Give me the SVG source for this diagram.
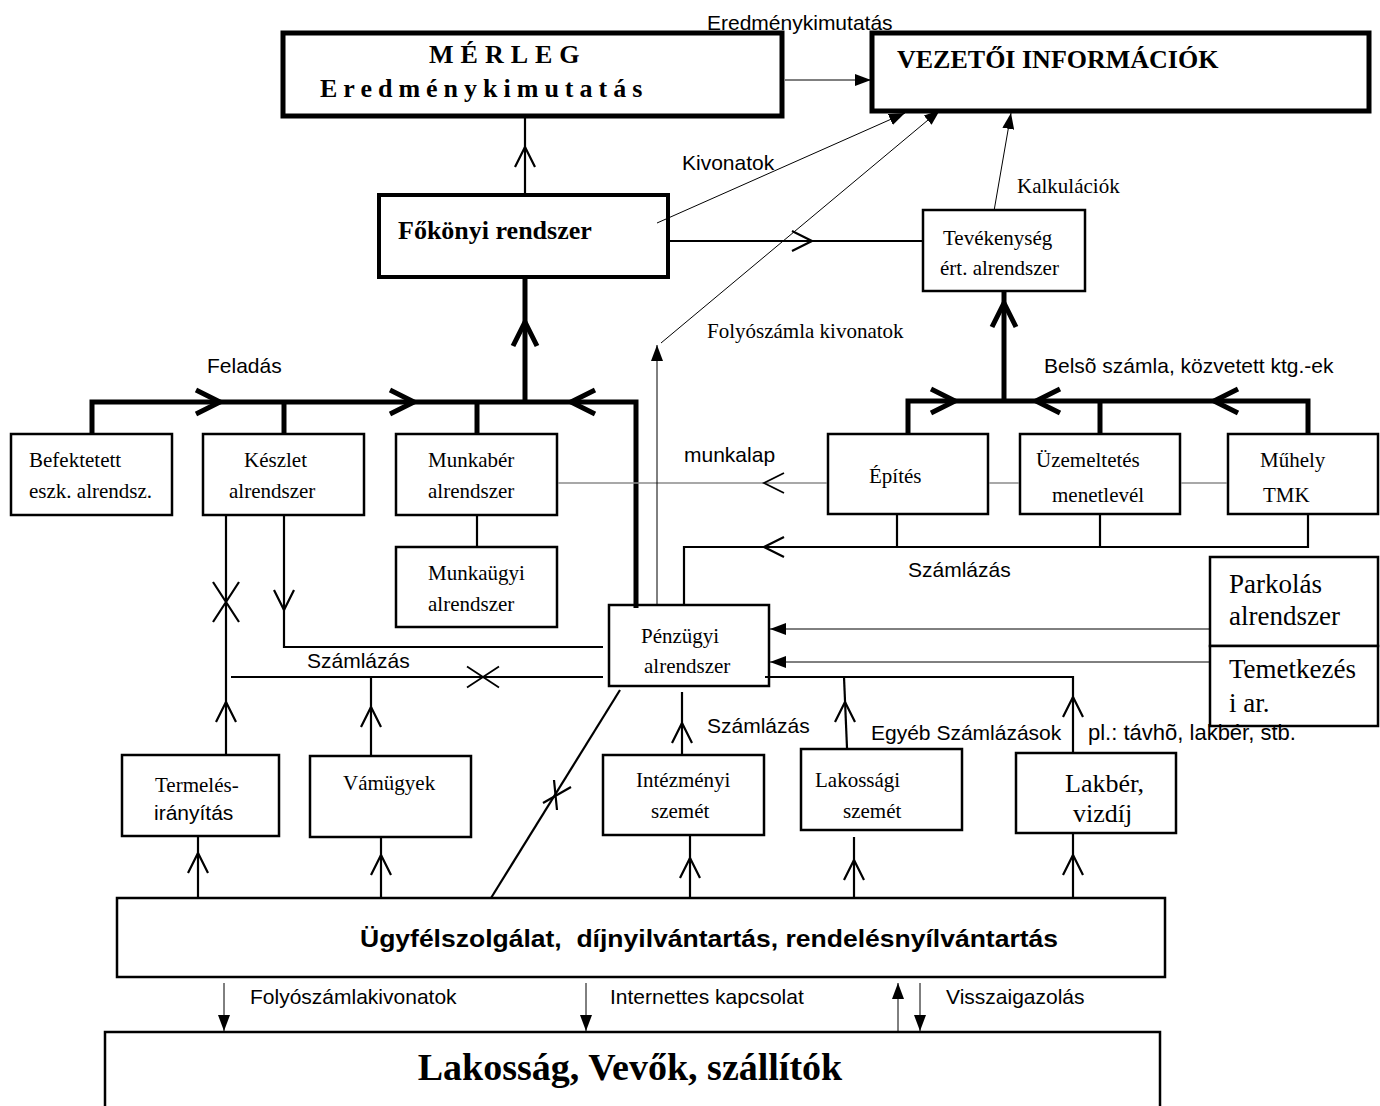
<svg xmlns="http://www.w3.org/2000/svg" width="1380" height="1106" viewBox="0 0 1380 1106">
<style>
.box{fill:#fff;stroke:#000;stroke-width:2.5}
.bx5{fill:#fff;stroke:#000;stroke-width:5}
.bx4{fill:#fff;stroke:#000;stroke-width:4}
.t5{fill:none;stroke:#000;stroke-width:5}
.l2{fill:none;stroke:#000;stroke-width:2.2}
.h1{fill:none;stroke:#000;stroke-width:1}
.gr{fill:none;stroke:#8c8c8c;stroke-width:1.5}
.c2{fill:none;stroke:#000;stroke-width:2.2}
.c5{fill:none;stroke:#000;stroke-width:5}
.sf{font-family:"Liberation Serif","Times New Roman",serif;font-size:21px;fill:#000}
.ss{font-family:"Liberation Sans",Arial,sans-serif;font-size:21px;fill:#000}
</style>
<defs>
<marker id="ah" viewBox="0 0 16 12" refX="16" refY="6" markerWidth="16" markerHeight="12" markerUnits="userSpaceOnUse" orient="auto"><path d="M0,0 L16,6 L0,12 z" fill="#000"/></marker>
<path id="cu" d="M-10,20 L0,0 L10,20"/>
<path id="ctu" d="M-12,24 L0,0 L12,24"/>
<path id="xx" d="M-13,-20 L13,20 M13,-20 L-13,20"/>
</defs>

<g id="merleg">
<rect class="bx5" x="283" y="33" width="499" height="83"/>
<text class="sf" x="429" y="63" style="font-size:26px;font-weight:bold;letter-spacing:7px">MÉRLEG</text>
<text class="sf" x="320" y="97" style="font-size:26px;font-weight:bold;letter-spacing:6px">Eredménykimutatás</text>
</g>
<g id="vezetoi">
<rect class="bx5" x="872" y="33" width="497" height="78"/>
<text class="sf" x="897" y="68" style="font-size:26px;font-weight:bold">VEZETŐI INFORMÁCIÓK</text>
</g>
<g id="fokonyi">
<rect class="bx4" x="379" y="195" width="289" height="82"/>
<text class="sf" x="398" y="239" style="font-size:26px;font-weight:bold">Főkönyi rendszer</text>
</g>
<g id="tevekenyseg">
<rect class="box" x="923" y="210" width="162" height="81"/>
<text class="sf" x="943" y="245">Tevékenység</text>
<text class="sf" x="940" y="275">ért. alrendszer</text>
</g>
<g id="befektetett">
<rect class="box" x="11" y="434" width="161" height="81"/>
<text class="sf" x="29" y="467">Befektetett</text>
<text class="sf" x="29" y="498">eszk. alrendsz.</text>
</g>
<g id="keszlet">
<rect class="box" x="203" y="434" width="161" height="81"/>
<text class="sf" x="244" y="467">Készlet</text>
<text class="sf" x="229" y="498">alrendszer</text>
</g>
<g id="munkaber">
<rect class="box" x="396" y="434" width="161" height="81"/>
<text class="sf" x="428" y="467">Munkabér</text>
<text class="sf" x="428" y="498">alrendszer</text>
</g>
<g id="munkaugyi">
<rect class="box" x="396" y="547" width="161" height="80"/>
<text class="sf" x="428" y="580">Munkaügyi</text>
<text class="sf" x="428" y="611">alrendszer</text>
</g>
<g id="epites">
<rect class="box" x="828" y="434" width="160" height="80"/>
<text class="sf" x="869" y="483">Építés</text>
</g>
<g id="uzemeltetes">
<rect class="box" x="1020" y="434" width="160" height="80"/>
<text class="sf" x="1036" y="467">Üzemeltetés</text>
<text class="sf" x="1052" y="502">menetlevél</text>
</g>
<g id="muhely">
<rect class="box" x="1228" y="434" width="150" height="80"/>
<text class="sf" x="1260" y="467">Műhely</text>
<text class="sf" x="1263" y="502">TMK</text>
</g>
<g id="penzugyi">
<rect class="box" x="609" y="605" width="160" height="81"/>
<text class="sf" x="641" y="643">Pénzügyi</text>
<text class="sf" x="644" y="673">alrendszer</text>
</g>
<g id="parkolas">
<rect class="box" x="1210" y="557" width="168" height="89"/>
<text class="sf" x="1229" y="593" style="font-size:27px">Parkolás</text>
<text class="sf" x="1229" y="625" style="font-size:27px">alrendszer</text>
</g>
<g id="temetkezes">
<rect class="box" x="1210" y="646" width="168" height="80"/>
<text class="sf" x="1229" y="678" style="font-size:27px">Temetkezés</text>
<text class="sf" x="1229" y="712" style="font-size:27px">i ar.</text>
</g>
<g id="termeles">
<rect class="box" x="122" y="755" width="157" height="81"/>
<text class="sf" x="155" y="792">Termelés-</text>
<text class="ss" x="154" y="820">irányítás</text>
</g>
<g id="vamugyek">
<rect class="box" x="310" y="756" width="161" height="81"/>
<text class="sf" x="343" y="790">Vámügyek</text>
</g>
<g id="intezmenyi">
<rect class="box" x="603" y="755" width="161" height="80"/>
<text class="sf" x="636" y="787">Intézményi</text>
<text class="sf" x="651" y="818">szemét</text>
</g>
<g id="lakossagi">
<rect class="box" x="801" y="749" width="161" height="81"/>
<text class="sf" x="815" y="787">Lakossági</text>
<text class="sf" x="843" y="818">szemét</text>
</g>
<g id="lakber">
<rect class="box" x="1016" y="753" width="160" height="80"/>
<text class="sf" x="1065" y="792" style="font-size:26px">Lakbér,</text>
<text class="sf" x="1073" y="822" style="font-size:26px">vizdíj</text>
</g>
<g id="ugyfel">
<rect class="box" x="117" y="898" width="1048" height="79"/>
<text class="ss" x="360" y="947" xml:space="preserve" style="font-size:24px;font-weight:bold" textLength="698" lengthAdjust="spacingAndGlyphs">Ügyfélszolgálat,  díjnyilvántartás, rendelésnyílvántartás</text>
</g>
<g id="lakossag">
<rect class="box" x="105" y="1032" width="1055" height="90"/>
<text class="sf" x="630" y="1080" text-anchor="middle" style="font-size:38px;font-weight:bold">Lakosság, Vevők, szállítók</text>
</g>

<g id="connectors">
<!-- top -->
<line class="h1" x1="785" y1="80" x2="871" y2="80" stroke="#555" marker-end="url(#ah)"/>
<line class="l2" x1="525" y1="193" x2="525" y2="118"/>
<use href="#cu" class="c2" transform="translate(525,147)"/>
<line class="h1" x1="657" y1="223" x2="905" y2="113" marker-end="url(#ah)"/>
<line class="h1" x1="661" y1="343" x2="940" y2="110" marker-end="url(#ah)"/>
<line class="h1" x1="994" y1="211" x2="1011" y2="113" marker-end="url(#ah)"/>
<line class="l2" x1="670" y1="241" x2="922" y2="241"/>
<use href="#cu" class="c2" transform="translate(812,241) rotate(90)"/>
<!-- left bus -->
<line class="t5" x1="525" y1="279" x2="525" y2="402"/>
<use href="#ctu" class="c5" transform="translate(525,322)"/>
<path class="t5" d="M92,433 V402 H636 V608"/>
<line class="t5" x1="284" y1="402" x2="284" y2="433"/>
<line class="t5" x1="477" y1="402" x2="477" y2="433"/>
<use href="#ctu" class="c5" transform="translate(220,402) rotate(90)"/>
<use href="#ctu" class="c5" transform="translate(414,402) rotate(90)"/>
<use href="#ctu" class="c5" transform="translate(571,402) rotate(-90)"/>
<line class="l2" x1="477" y1="516" x2="477" y2="546"/>
<!-- right bus -->
<line class="t5" x1="1004" y1="292" x2="1004" y2="401"/>
<use href="#ctu" class="c5" transform="translate(1004,303)"/>
<path class="t5" d="M908,433 V401 H1308 V433"/>
<line class="t5" x1="1100" y1="401" x2="1100" y2="433"/>
<use href="#ctu" class="c5" transform="translate(955,401) rotate(90)"/>
<use href="#ctu" class="c5" transform="translate(1036,401) rotate(-90)"/>
<use href="#ctu" class="c5" transform="translate(1214,401) rotate(-90)"/>
<!-- munkalap -->
<path class="gr" d="M558,483 H827 M989,483 H1019 M1181,483 H1227"/>
<use href="#cu" class="c2" transform="translate(764,483) rotate(-90)" style="stroke-width:1.8"/>
<!-- Számlázás right -->
<path class="l2" d="M684,604 V547 H1308 V515"/>
<line class="l2" x1="897" y1="515" x2="897" y2="547"/>
<line class="l2" x1="1100" y1="515" x2="1100" y2="547"/>
<use href="#cu" class="c2" transform="translate(764,547) rotate(-90)"/>
<!-- Folyószámla vertical -->
<line class="h1" x1="657" y1="604" x2="657" y2="345" marker-end="url(#ah)"/>
<!-- Parkolás / Temetkezés -->
<line class="h1" x1="1209" y1="629" x2="770" y2="629" stroke="#444" marker-end="url(#ah)"/>
<line class="h1" x1="1209" y1="662" x2="770" y2="662" stroke="#444" marker-end="url(#ah)"/>
<!-- Pénzügyi right -->
<path class="l2" d="M765,677 H1073 V752"/>
<line class="l2" x1="844" y1="677" x2="847" y2="748"/>
<use href="#cu" class="c2" transform="translate(845,702)"/>
<use href="#cu" class="c2" transform="translate(1073,697)"/>
<line class="l2" x1="682" y1="692" x2="682" y2="754"/>
<use href="#cu" class="c2" transform="translate(682,723)"/>
<!-- left lower -->
<line class="l2" x1="226" y1="516" x2="226" y2="754"/>
<use href="#xx" class="c2" transform="translate(226,602)"/>
<use href="#cu" class="c2" transform="translate(226,702)"/>
<path class="l2" d="M284,516 V647 H603"/>
<use href="#cu" class="c2" transform="translate(284,610) rotate(180)"/>
<line class="l2" x1="231" y1="677" x2="603" y2="677"/>
<use href="#xx" class="c2" transform="translate(483,677) rotate(90) scale(0.8)"/>
<line class="l2" x1="371" y1="677" x2="371" y2="755"/>
<use href="#cu" class="c2" transform="translate(371,707)"/>
<!-- diagonal -->
<line class="l2" x1="491" y1="898" x2="620" y2="690"/>
<path class="l2" d="M543,803 L571,787 M554,780 L557,810"/>
<!-- bottom verticals -->
<line class="l2" x1="198" y1="837" x2="198" y2="897"/>
<use href="#cu" class="c2" transform="translate(198,853)"/>
<line class="l2" x1="381" y1="838" x2="381" y2="897"/>
<use href="#cu" class="c2" transform="translate(381,855)"/>
<line class="l2" x1="690" y1="836" x2="690" y2="897"/>
<use href="#cu" class="c2" transform="translate(690,858)"/>
<line class="l2" x1="854" y1="837" x2="854" y2="897"/>
<use href="#cu" class="c2" transform="translate(854,860)"/>
<line class="l2" x1="1073" y1="834" x2="1073" y2="897"/>
<use href="#cu" class="c2" transform="translate(1073,855)"/>
<!-- to Lakosság -->
<line class="h1" x1="224" y1="983" x2="224" y2="1031" marker-end="url(#ah)"/>
<line class="h1" x1="586" y1="983" x2="586" y2="1031" marker-end="url(#ah)"/>
<line class="h1" x1="898" y1="1031" x2="898" y2="983" marker-end="url(#ah)"/>
<line class="h1" x1="920" y1="983" x2="920" y2="1031" marker-end="url(#ah)"/>
<!-- labels -->
<text class="ss" x="707" y="30">Eredménykimutatás</text>
<text class="ss" x="682" y="170">Kivonatok</text>
<text class="sf" x="1017" y="193">Kalkulációk</text>
<text class="sf" x="707" y="338">Folyószámla kivonatok</text>
<text class="ss" x="207" y="373">Feladás</text>
<text class="ss" x="1044" y="373">Belsõ számla, közvetett ktg.-ek</text>
<text class="ss" x="684" y="462">munkalap</text>
<text class="ss" x="908" y="577">Számlázás</text>
<text class="ss" x="307" y="668">Számlázás</text>
<text class="ss" x="707" y="733">Számlázás</text>
<text class="ss" x="871" y="740">Egyéb Számlázások</text>
<text class="ss" x="1088" y="740" style="font-size:22px">pl.: távhõ, lakbér, stb.</text>
<text class="ss" x="250" y="1004">Folyószámlakivonatok</text>
<text class="ss" x="610" y="1004">Internettes kapcsolat</text>
<text class="ss" x="946" y="1004">Visszaigazolás</text>
</g>
</svg>
